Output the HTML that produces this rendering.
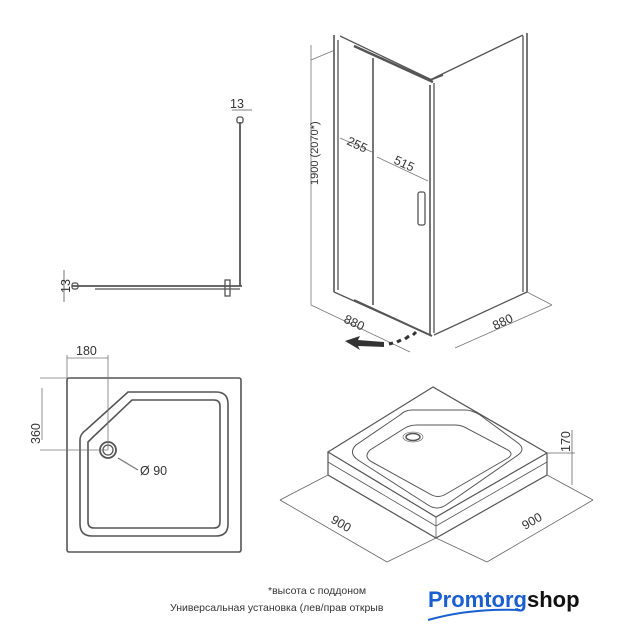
<!DOCTYPE html>
<html><head><meta charset="utf-8"><style>
html,body{margin:0;padding:0;background:#fff;}
svg{display:block;font-family:"Liberation Sans",sans-serif;}
</style></head><body>
<svg width="619" height="640" viewBox="0 0 619 640" xmlns="http://www.w3.org/2000/svg">
<g fill="none" stroke="#555" stroke-width="1.3">
<!-- top-left plan -->
<line x1="240" y1="122" x2="240" y2="286" stroke-width="1.8"/>
<line x1="72" y1="286" x2="242" y2="286" stroke-width="1.8"/>
<line x1="95" y1="289" x2="240" y2="289"/>
<rect x="237" y="117" width="6" height="6" rx="2"/>
<rect x="72" y="283" width="6" height="6" rx="2"/>
<rect x="225" y="280" width="5" height="16"/>
<line x1="232" y1="110" x2="252" y2="110" stroke-width="0.8"/>
<line x1="64" y1="270" x2="64" y2="302" stroke-width="0.8"/>
<!-- enclosure -->
<line x1="334" y1="35" x2="334" y2="292" stroke-width="1.6"/>
<line x1="338" y1="40" x2="338" y2="290"/>
<line x1="527" y1="33" x2="527" y2="292" stroke-width="1.6"/>
<line x1="523" y1="36" x2="523" y2="292"/>
<line x1="430" y1="85" x2="430" y2="335" stroke-width="1.6"/>
<line x1="434" y1="83" x2="434" y2="333"/>
<line x1="373" y1="58" x2="373" y2="305" stroke-width="1.6"/>
<line x1="354" y1="46" x2="433" y2="82" stroke-width="2.5"/>
<line x1="340" y1="36" x2="432" y2="80"/>
<line x1="434" y1="78" x2="523" y2="35"/>
<line x1="430" y1="80" x2="443" y2="75" stroke-width="2"/>
<line x1="334" y1="292" x2="430" y2="335"/>
<line x1="354" y1="300" x2="432" y2="336" stroke-width="2"/>
<line x1="434" y1="335" x2="527" y2="292"/>
<rect x="418" y="192" width="7" height="33" rx="2"/>
<!-- dims -->
<g stroke-width="0.8" stroke="#777">
<line x1="311" y1="45" x2="311" y2="305"/>
<line x1="311" y1="60" x2="335" y2="50"/>
<line x1="311" y1="305" x2="410" y2="352"/>
<line x1="455" y1="348" x2="552" y2="305"/>
<line x1="527" y1="292" x2="552" y2="305"/>
<line x1="340" y1="138" x2="372" y2="152"/>
<line x1="377" y1="157" x2="428" y2="181"/>
</g>
<!-- arrow -->
<path d="M345 341 L360 336 L358 340 L384 342 L384 347 L358 346 L360 350 Z" fill="#333" stroke="none"/>
<g stroke="#333" stroke-width="3"><line x1="389" y1="344" x2="393" y2="343"/><line x1="397" y1="342" x2="401" y2="340"/><line x1="405" y1="339" x2="409" y2="336"/><line x1="413" y1="335" x2="416" y2="332"/></g>
<!-- tray plan -->
<rect x="67" y="378" width="174" height="174" rx="2" stroke-width="1.6"/>
<path d="M128 392 L216 392 Q228 392 228 404 L228 524 Q228 536 216 536 L92 536 Q80 536 80 524 L80 440 Q80 434 86 430 Z" stroke-width="1.6"/>
<path d="M132 400 L214 400 Q220 400 220 406 L220 522 Q220 528 214 528 L94 528 Q88 528 88 522 L88 442 L92 438 Z" stroke-width="1.6"/>
<circle cx="108" cy="450" r="8" stroke-width="1.8"/>
<circle cx="108" cy="450" r="5"/>
<g stroke-width="0.8" stroke="#777">
<line x1="67" y1="355" x2="67" y2="378"/>
<line x1="108" y1="355" x2="108" y2="450"/>
<line x1="67" y1="358" x2="108" y2="358"/>
<line x1="40" y1="378" x2="67" y2="378"/>
<line x1="40" y1="450" x2="108" y2="450"/>
<line x1="42" y1="388" x2="42" y2="440"/>
<line x1="118" y1="458" x2="138" y2="470" stroke-width="1.2"/>
</g>
<!-- tray iso -->
<path d="M433 387 L328 452 L436 517 L547 453 Z" stroke-width="1.2"/>
<path d="M328 452 L328 475 L436 538 L547 475 L547 453" stroke-width="1.2"/>
<line x1="328" y1="462" x2="436" y2="526" stroke-width="0.8"/>
<line x1="436" y1="526" x2="547" y2="462" stroke-width="0.8"/>
<line x1="436" y1="517" x2="436" y2="538" stroke-width="0.8"/>
<path d="M412 410 L437 410 M445 410 L465 410 Q472 410 480 415 L518 443 Q526 449 518 455 L446 505 Q437 511 428 505 L358 460 Q348 453 356 445 L400 415 Q405 410 412 410 Z" stroke-width="1"/>
<path d="M417 425 L438 425 M446 425 L455 425 Q462 425 468 429 L508 450 Q514 454 508 458 L446 494 Q438 499 430 494 L372 462 Q363 457 370 450 L405 428 Q410 425 417 425 Z" stroke-width="1"/>
<ellipse cx="413" cy="437" rx="7" ry="3.5" stroke-width="1.5"/>
<ellipse cx="413" cy="437" rx="10" ry="5" stroke-width="0.6"/>
<g stroke-width="0.8" stroke="#666">
<line x1="328" y1="475" x2="280" y2="500"/>
<line x1="280" y1="500" x2="387" y2="562"/>
<line x1="436" y1="538" x2="387" y2="562"/>
<line x1="547" y1="475" x2="593" y2="500"/>
<line x1="593" y1="500" x2="487" y2="562"/>
<line x1="436" y1="538" x2="487" y2="562"/>
<line x1="572" y1="430" x2="572" y2="485"/>
<line x1="547" y1="453" x2="575" y2="453"/>
</g>
</g>
<g fill="#333" font-size="12.5">
<text x="230" y="108">13</text>
<text transform="translate(70,293) rotate(-90)">13</text>
<text transform="translate(318,185) rotate(-90)" font-size="11">1900 (2070*)</text>
<text transform="translate(346,144) rotate(25)">255</text>
<text transform="translate(393,163) rotate(25)">515</text>
<text transform="translate(343,322) rotate(25)">880</text>
<text transform="translate(495,330) rotate(-25)">880</text>
<text x="76" y="355">180</text>
<text transform="translate(40,444) rotate(-90)">360</text>
<text x="140" y="475">Ø 90</text>
<text transform="translate(330,522) rotate(30)">900</text>
<text transform="translate(525,530) rotate(-30)">900</text>
<text transform="translate(570,452) rotate(-90)">170</text>
<text x="268" y="594" font-size="10.5">*высота с поддоном</text>
<text x="170" y="611" font-size="10.5">Универсальная установка (лев/прав открыв</text>
</g>
<text x="428" y="607" font-size="22" font-weight="bold" fill="#1a5fd0" font-family="Liberation Sans,sans-serif">Promtorg<tspan fill="#111">shop</tspan></text>
<path d="M428 620 Q470 608 520 610" stroke="#1a5fd0" stroke-width="2" fill="none"/>
</svg>
</body></html>
